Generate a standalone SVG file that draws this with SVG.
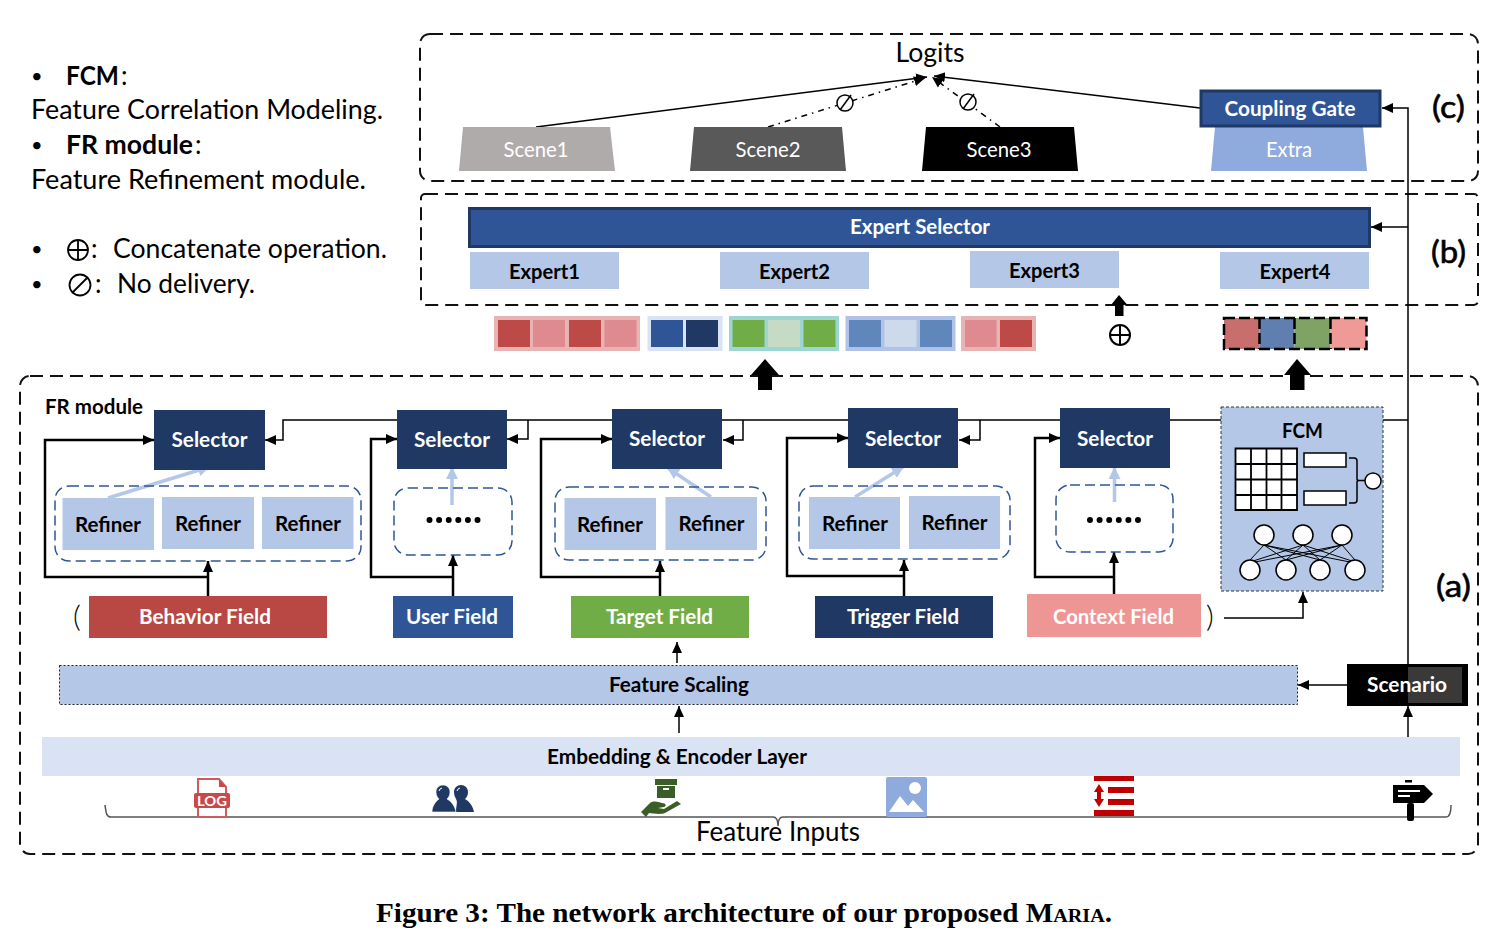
<svg xmlns="http://www.w3.org/2000/svg" width="1495" height="939" viewBox="0 0 1495 939">
<style>
text{font-family:Lato,"Noto Sans","DejaVu Sans",sans-serif;fill:#000}
.m{text-anchor:middle}
.b{font-weight:700;font-size:21px}
.w{fill:#fff}
.r{font-size:21px}
.lg{font-size:26px}
.bu{font-size:20px}
.sym{fill:none;stroke:#000;stroke-width:1.800}
.tag{font-size:30px;stroke:#000;stroke-width:.6}
.region{fill:none;stroke:#111;stroke-width:2;stroke-dasharray:13 7}
.grp{fill:#fff;fill-opacity:0;stroke:#2f5597;stroke-width:1.5;stroke-dasharray:10 5}
.ln{fill:none;stroke:#000;stroke-width:1.5}
.th{fill:none;stroke:#000;stroke-width:2.5}
.dd{fill:none;stroke:#000;stroke-width:1.5;stroke-dasharray:6 5 1.5 5}
.lb{fill:none;stroke:#b4c7e7;stroke-width:3.5}
.sel{fill:#203864}
.ref{fill:#b4c7e7}
.circ{fill:#fff;stroke:#000;stroke-width:1.5}
.fcm{fill:none;stroke:#000;stroke-width:1}
</style>
<defs>
<marker id="a" markerUnits="userSpaceOnUse" markerWidth="12" markerHeight="12" refX="11" refY="6" orient="auto"><path d="M0 1L11 6L0 11z" fill="#000"/></marker>
<marker id="al" markerUnits="userSpaceOnUse" markerWidth="12" markerHeight="12" refX="11" refY="6" orient="auto"><path d="M0 0L12 6L0 12z" fill="#b4c7e7"/></marker>
</defs>

<g id="legend">
<text x="31" y="83" class="bu">•</text><text x="66" y="85" class="lg" font-weight="700" textLength="53" lengthAdjust="spacingAndGlyphs">FCM</text><text x="121" y="85" class="lg">:</text>
<text x="31" y="119" class="lg" textLength="352" lengthAdjust="spacingAndGlyphs">Feature Correlation Modeling.</text>
<text x="31" y="152" class="bu">•</text><text x="66" y="154" class="lg" font-weight="700" textLength="127" lengthAdjust="spacingAndGlyphs">FR module</text><text x="195" y="154" class="lg">:</text>
<text x="31" y="189" class="lg" textLength="335" lengthAdjust="spacingAndGlyphs">Feature Refinement module.</text>
<text x="31" y="256" class="bu">•</text><circle cx="78" cy="250" r="10" class="sym"/><path d="M68 250H88M78 240V260" class="sym"/><text x="91" y="258" class="lg">:</text><text x="113" y="258" class="lg" textLength="274" lengthAdjust="spacingAndGlyphs">Concatenate operation.</text>
<text x="31" y="291" class="bu">•</text><circle cx="80" cy="285" r="10.500" class="sym"/><path d="M72 293L88 277" class="sym"/><text x="95" y="293" class="lg">:</text><text x="117" y="293" class="lg" textLength="138" lengthAdjust="spacingAndGlyphs">No delivery.</text>
</g>

<g id="regions">
<rect id="region-c" x="420" y="34" width="1058" height="147" rx="10" class="region"/>
<rect id="region-b" x="421" y="194" width="1057" height="111" rx="4" class="region"/>
<rect id="region-a" x="20" y="376" width="1458" height="478" rx="10" class="region"/>
<text x="1432" y="118" class="tag" textLength="33" lengthAdjust="spacingAndGlyphs">(c)</text>
<text x="1431" y="263" class="tag" textLength="35" lengthAdjust="spacingAndGlyphs">(b)</text>
<text x="1436" y="597" class="tag" textLength="35" lengthAdjust="spacingAndGlyphs">(a)</text>
<text x="45" y="414" class="b" textLength="98" lengthAdjust="spacingAndGlyphs">FR module</text>
<text x="73" y="627" font-size="30" font-weight="300">(</text>
<text x="1206" y="627" font-size="30" font-weight="300">)</text>
</g>

<g id="connectors">
<path class="ln" d="M536 127L927 77" marker-end="url(#a)"/>
<path class="ln" d="M1200 108L934 76" marker-end="url(#a)"/>
<path class="dd" d="M768 127L925 78" marker-end="url(#a)"/>
<path class="dd" d="M1000 127L932 77" marker-end="url(#a)"/>
<path class="ln" d="M1408 665V108H1382" marker-end="url(#a)"/>
<path class="ln" d="M1408 227H1371" marker-end="url(#a)"/>
<path class="ln" d="M1408 775V706" marker-end="url(#a)"/>
<path class="ln" d="M1408 420H283V440H265" marker-end="url(#a)"/>
<path class="ln" d="M528 420V439H507" marker-end="url(#a)"/>
<path class="ln" d="M743 420V440H723" marker-end="url(#a)"/>
<path class="ln" d="M980 420V440H959" marker-end="url(#a)"/>
<path class="th" d="M208 596V561" marker-end="url(#a)"/>
<path class="th" d="M208 577H45V440H154" marker-end="url(#a)"/>
<path class="th" d="M453 597V555" marker-end="url(#a)"/>
<path class="th" d="M453 577H371V439H397" marker-end="url(#a)"/>
<path class="th" d="M660 596V561" marker-end="url(#a)"/>
<path class="th" d="M660 577H541V439H612" marker-end="url(#a)"/>
<path class="th" d="M904 597V560" marker-end="url(#a)"/>
<path class="th" d="M904 576H787V438H848" marker-end="url(#a)"/>
<path class="th" d="M1114 594V552" marker-end="url(#a)"/>
<path class="th" d="M1114 577H1035V438H1060" marker-end="url(#a)"/>
<path class="lb" d="M108 498L209 467" marker-end="url(#al)"/>
<path class="lb" d="M452 505V468" marker-end="url(#al)"/>
<path class="lb" d="M711 497L668 468" marker-end="url(#al)"/>
<path class="lb" d="M855 497L903 467" marker-end="url(#al)"/>
<path class="lb" d="M1114.500 502V468" marker-end="url(#al)"/>
<path class="ln" d="M1224 618H1303V592" marker-end="url(#a)"/>
<path class="ln" d="M677 663V642" marker-end="url(#a)"/>
<path class="ln" d="M679 733V706" marker-end="url(#a)"/>
<path class="ln" d="M1347 685H1298" marker-end="url(#a)"/>
<path d="M1119 295L1127.500 305H1123.500V316H1115V305H1111z" fill="#000"/>
<path d="M765 359L779 375H772V390H758V375H751z" fill="#000"/>
<path d="M1297 359L1311 375H1304.500V390H1290V375H1284z" fill="#000"/>
<path d="M105 805C106 812 106 817 111 817H773C777 817 778 822 778 826C778 822 779 817 783 817H1446C1450 817 1451 812 1451 805" fill="none" stroke="#555" stroke-width="1.500"/>
</g>

<g id="logits"><text x="930" y="62" class="m" font-size="26" textLength="69" lengthAdjust="spacingAndGlyphs">Logits</text></g>
<g id="no-delivery-1"><circle cx="845" cy="103" r="8" fill="#fff" stroke="#000" stroke-width="1.500"/><path d="M840 110L851 95" stroke="#000" stroke-width="1.500"/></g>
<g id="no-delivery-2"><circle cx="968" cy="102" r="8" fill="#fff" stroke="#000" stroke-width="1.500"/><path d="M963 109L974 94" stroke="#000" stroke-width="1.500"/></g>

<g id="scene1"><path d="M463 127H610L615 171H459z" fill="#afabab"/><text x="536" y="157" class="m r w" textLength="65" lengthAdjust="spacingAndGlyphs">Scene1</text></g>
<g id="scene2"><path d="M694 127H842L846 171H690z" fill="#595959"/><text x="768" y="157" class="m r w" textLength="65" lengthAdjust="spacingAndGlyphs">Scene2</text></g>
<g id="scene3"><path d="M926 127H1074L1078 171H922z" fill="#000"/><text x="999" y="157" class="m r w" textLength="65" lengthAdjust="spacingAndGlyphs">Scene3</text></g>
<g id="extra"><path d="M1215 127H1363L1367 171H1211z" fill="#8faadc"/><text x="1289" y="157" class="m r w" textLength="46" lengthAdjust="spacingAndGlyphs">Extra</text></g>
<g id="coupling-gate"><rect x="1201" y="91" width="179" height="35" fill="#2f5597" stroke="#203864" stroke-width="3"/><text x="1290" y="116" class="m b w" textLength="131" lengthAdjust="spacingAndGlyphs">Coupling Gate</text></g>

<g id="expert-selector"><rect x="469.500" y="208.500" width="900" height="38" fill="#2f5597" stroke="#203864" stroke-width="3"/><text x="920" y="234" class="m b w" textLength="140" lengthAdjust="spacingAndGlyphs">Expert Selector</text></g>
<g id="expert1"><rect x="470" y="252" width="149" height="37" class="ref"/><text x="544.500" y="279" class="m b" textLength="71" lengthAdjust="spacingAndGlyphs">Expert1</text></g>
<g id="expert2"><rect x="720" y="252" width="149" height="37" class="ref"/><text x="794.500" y="279" class="m b" textLength="71" lengthAdjust="spacingAndGlyphs">Expert2</text></g>
<g id="expert3"><rect x="970" y="251" width="149" height="37" class="ref"/><text x="1044.500" y="278" class="m b" textLength="71" lengthAdjust="spacingAndGlyphs">Expert3</text></g>
<g id="expert4"><rect x="1220" y="252" width="149" height="37" class="ref"/><text x="1295" y="279" class="m b" textLength="71" lengthAdjust="spacingAndGlyphs">Expert4</text></g>

<g id="strip-behavior"><rect x="494" y="316" width="146" height="35" fill="#e8b3b3"/><rect x="498" y="320" width="32" height="27" fill="#bd4a47"/><rect x="533" y="320" width="32" height="27" fill="#df8a8e"/><rect x="569" y="320" width="32" height="27" fill="#bd4a47"/><rect x="604.500" y="320" width="32" height="27" fill="#df8a8e"/></g>
<g id="strip-user"><rect x="647.500" y="316" width="75" height="35" fill="#dae3f3"/><rect x="651" y="320" width="32" height="27" fill="#2f5597"/><rect x="686" y="320" width="32" height="27" fill="#203864"/></g>
<g id="strip-target"><rect x="729" y="316" width="110" height="35" fill="#9dd5d3"/><rect x="732.500" y="320" width="32" height="27" fill="#70ad47"/><rect x="768" y="320" width="32" height="27" fill="#c5dbc5"/><rect x="803.500" y="320" width="32" height="27" fill="#70ad47"/></g>
<g id="strip-trigger"><rect x="845.500" y="316" width="110" height="35" fill="#b0c3e6"/><rect x="849" y="320" width="32" height="27" fill="#5f87bb"/><rect x="884.500" y="320" width="32" height="27" fill="#cddaeb"/><rect x="920" y="320" width="32" height="27" fill="#5f87bb"/></g>
<g id="strip-context"><rect x="961" y="316" width="75" height="35" fill="#e8b3b3"/><rect x="965" y="320" width="31.500" height="27" fill="#df8a8e"/><rect x="1000" y="320" width="32" height="27" fill="#bd4a47"/></g>
<g id="concat"><circle cx="1120" cy="335" r="10" fill="none" stroke="#000" stroke-width="2"/><path d="M1110 335H1130M1120 325V345" stroke="#000" stroke-width="2"/></g>
<g id="strip-fcm"><rect x="1224" y="318" width="35.500" height="31" fill="#c86f6e"/><rect x="1259.500" y="318" width="35" height="31" fill="#5f7fb0"/><rect x="1294.500" y="318" width="36" height="31" fill="#7fa364"/><rect x="1330.500" y="318" width="36" height="31" fill="#f09a97"/><path d="M1224 318H1366.500V349H1224zM1259.500 318V349M1294.500 318V349M1330.500 318V349" fill="none" stroke="#000" stroke-width="2.500" stroke-dasharray="11 4"/></g>

<g id="selector1"><rect x="154" y="410" width="111" height="60" class="sel"/><text x="209.500" y="447" class="m b w" textLength="76" lengthAdjust="spacingAndGlyphs">Selector</text></g>
<g id="selector2"><rect x="397" y="410" width="110" height="59" class="sel"/><text x="452" y="447" class="m b w" textLength="76" lengthAdjust="spacingAndGlyphs">Selector</text></g>
<g id="selector3"><rect x="612" y="409" width="110" height="60" class="sel"/><text x="667" y="446" class="m b w" textLength="76" lengthAdjust="spacingAndGlyphs">Selector</text></g>
<g id="selector4"><rect x="848" y="408" width="110" height="60" class="sel"/><text x="903" y="446" class="m b w" textLength="76" lengthAdjust="spacingAndGlyphs">Selector</text></g>
<g id="selector5"><rect x="1060" y="408" width="110" height="60" class="sel"/><text x="1115" y="446" class="m b w" textLength="76" lengthAdjust="spacingAndGlyphs">Selector</text></g>

<g id="refiners-behavior"><rect x="55" y="486" width="306" height="75" rx="14" class="grp"/>
<rect x="62.500" y="498" width="91.500" height="52" class="ref"/><text x="108" y="532" class="m b" textLength="66" lengthAdjust="spacingAndGlyphs">Refiner</text>
<rect x="162" y="497" width="92" height="52" class="ref"/><text x="208" y="531" class="m b" textLength="66" lengthAdjust="spacingAndGlyphs">Refiner</text>
<rect x="262" y="497" width="91.500" height="52" class="ref"/><text x="308" y="531" class="m b" textLength="66" lengthAdjust="spacingAndGlyphs">Refiner</text></g>
<g id="refiners-user"><rect x="394" y="488" width="118" height="67" rx="14" class="grp"/><path d="M429.500 520H479" stroke="#000" stroke-width="6" stroke-linecap="round" stroke-dasharray="0 9.600"/></g>
<g id="refiners-target"><rect x="555" y="487" width="211" height="73" rx="14" class="grp"/>
<rect x="564.500" y="498" width="91.500" height="52" class="ref"/><text x="610" y="532" class="m b" textLength="66" lengthAdjust="spacingAndGlyphs">Refiner</text>
<rect x="665.500" y="497" width="91.500" height="53" class="ref"/><text x="711.500" y="531" class="m b" textLength="66" lengthAdjust="spacingAndGlyphs">Refiner</text></g>
<g id="refiners-trigger"><rect x="799" y="486" width="211" height="73" rx="14" class="grp"/>
<rect x="809" y="497" width="91" height="52" class="ref"/><text x="855" y="531" class="m b" textLength="66" lengthAdjust="spacingAndGlyphs">Refiner</text>
<rect x="909" y="496" width="91" height="53" class="ref"/><text x="954.500" y="530" class="m b" textLength="66" lengthAdjust="spacingAndGlyphs">Refiner</text></g>
<g id="refiners-context"><rect x="1056" y="485" width="117" height="67" rx="14" class="grp"/><path d="M1090 520H1139.500" stroke="#000" stroke-width="6" stroke-linecap="round" stroke-dasharray="0 9.600"/></g>

<g id="fcm">
<rect x="1221" y="407" width="162" height="184" fill="#b4c7e7" stroke="#333" stroke-width="1" stroke-dasharray="3 2"/>
<text x="1302.500" y="438" class="m b" textLength="41" lengthAdjust="spacingAndGlyphs">FCM</text>
<path d="M1235.500 448.500H1297V510H1235.500zM1235.500 464H1297M1235.500 479.500H1297M1235.500 495H1297M1251 448.500V510M1266.500 448.500V510M1281.500 448.500V510" fill="#fff" stroke="#000" stroke-width="1.800"/>
<rect x="1304" y="453" width="42" height="14" fill="#fff" stroke="#000" stroke-width="1.500"/>
<rect x="1304" y="491" width="42" height="14" fill="#fff" stroke="#000" stroke-width="1.500"/>
<path d="M1349 458H1354Q1357 458 1357 461V479Q1357 480.500 1359 480.500H1365M1349 503H1354Q1357 503 1357 500V482Q1357 480.500 1359 480.500" fill="none" stroke="#000" stroke-width="1.500"/>
<circle cx="1373" cy="481" r="8" class="circ"/>
<path class="fcm" d="M1264 545L1250 560M1264 545L1286 560M1264 545L1320 560M1264 545L1355 563M1303 545L1250 562M1303 545L1286 560M1303 545L1320 560M1303 545L1355 562M1342 545L1250 563M1342 545L1286 560M1342 545L1320 560M1342 545L1355 560"/>
<circle cx="1264" cy="535" r="10" class="circ"/><circle cx="1303" cy="535" r="10" class="circ"/><circle cx="1342" cy="535" r="10" class="circ"/>
<circle cx="1250" cy="570" r="10" class="circ"/><circle cx="1286" cy="570" r="10" class="circ"/><circle cx="1320" cy="570" r="10" class="circ"/><circle cx="1355" cy="570" r="10" class="circ"/>
</g>

<g id="behavior-field"><rect x="89" y="596" width="238" height="42" fill="#b94744"/><text x="205" y="624" class="m b w" textLength="132" lengthAdjust="spacingAndGlyphs">Behavior Field</text></g>
<g id="user-field"><rect x="393" y="596" width="120" height="42" fill="#2f5597"/><text x="452" y="624" class="m b w" textLength="92" lengthAdjust="spacingAndGlyphs">User Field</text></g>
<g id="target-field"><rect x="571" y="596" width="178" height="42" fill="#70ad47"/><text x="659.500" y="624" class="m b w" textLength="107" lengthAdjust="spacingAndGlyphs">Target Field</text></g>
<g id="trigger-field"><rect x="815" y="596" width="178" height="42" fill="#203864"/><text x="903" y="624" class="m b w" textLength="112" lengthAdjust="spacingAndGlyphs">Trigger Field</text></g>
<g id="context-field"><rect x="1027" y="594" width="174" height="43" fill="#ee9694"/><text x="1113.500" y="624" class="m b w" textLength="121" lengthAdjust="spacingAndGlyphs">Context Field</text></g>

<g id="feature-scaling"><rect x="59.500" y="665.500" width="1238" height="39" fill="#b4c7e7" stroke="#222" stroke-width="1" stroke-dasharray="2 2"/><text x="679" y="692" class="m b" textLength="140" lengthAdjust="spacingAndGlyphs">Feature Scaling</text></g>
<g id="scenario"><rect x="1347" y="664" width="121" height="42" fill="#000"/><rect x="1408" y="667" width="54" height="36" fill="#3b3838"/><text x="1407" y="692" class="m b w" textLength="80" lengthAdjust="spacingAndGlyphs">Scenario</text></g>
<g id="embedding"><rect x="42" y="737" width="1418" height="39" fill="#dae3f3"/><text x="677" y="764" class="m b" textLength="260" lengthAdjust="spacingAndGlyphs">Embedding &amp; Encoder Layer</text></g>

<g id="icon-log"><path d="M198 779H219L226 787V817H198z" fill="#fff" stroke="#cf5b5b" stroke-width="2"/><path d="M219 779L226 787H219z" fill="#c9484a"/><rect x="194" y="793" width="36" height="15" rx="2" fill="#c9484a"/><text x="212" y="806" class="m w" font-size="14" font-weight="700" textLength="30" lengthAdjust="spacingAndGlyphs">LOG</text></g>
<g id="icon-users" fill="#203864"><path d="M456 812C456 806 458 802 456 799C455 797 454 795 454 792C454 788 457 785 461 785C465 785 468 788 468 792C468 795 467 797 465 799C469 801 473 806 474 812z"/><path d="M432 812C432 806 436 801 439 799C437 797 436 795 436 792C436 788 439 785 443 785C447 785 450 788 450 792C450 795 449 797 447 799C451 801 455 806 456 812z" stroke="#fff" stroke-width=".6"/><path d="M439 791Q439.500 788.500 442 788M457 791Q457.500 788.500 460 788" fill="none" stroke="#fff" stroke-width="1"/></g>
<g id="icon-package" fill="#3a5f26"><path d="M655 779H677V785H655z"/><path d="M657 786H675V798H657zM663 788V790H669V788z" fill-rule="evenodd"/><path d="M641 812L650 803C654 800 658 802 662 803C666 803 667 806 664 807L658 808L664 809L677 801L681 804L665 813C660 815 652 813 649 813L646 817z"/></g>
<g id="icon-image"><rect x="886" y="777" width="41" height="40" rx="2" fill="#8faadc"/><circle cx="915" cy="788" r="6" fill="#fff"/><path d="M889 812L900 796L908 806L913 800L924 812z" fill="#fff"/></g>
<g id="icon-list" fill="#c00000"><rect x="1094" y="776" width="40" height="5"/><rect x="1108" y="787" width="26" height="6"/><rect x="1108" y="799" width="26" height="6"/><rect x="1094" y="810" width="40" height="6"/><path d="M1099 784L1104 792H1101V799H1104L1099 807L1094 799H1097V792H1094z"/></g>
<g id="icon-sign" fill="#000"><rect x="1405" y="780" width="7" height="2.500"/><path d="M1393 785H1424L1433 794L1424 803H1393z"/><rect x="1407" y="803" width="7" height="18" rx="2"/><path d="M1398 791H1420M1398 796H1410" stroke="#fff" stroke-width="2"/></g>

<g id="feature-inputs"><text x="696" y="841" font-size="26" textLength="164" lengthAdjust="spacingAndGlyphs">Feature Inputs</text></g>

<g id="caption"><text x="376" y="922" style="font-family:'Liberation Serif',serif" font-size="27.500" font-weight="700" textLength="736" lengthAdjust="spacingAndGlyphs">Figure 3: The network architecture of our proposed <tspan style="font-variant:small-caps">Maria</tspan>.</text></g>
</svg>
